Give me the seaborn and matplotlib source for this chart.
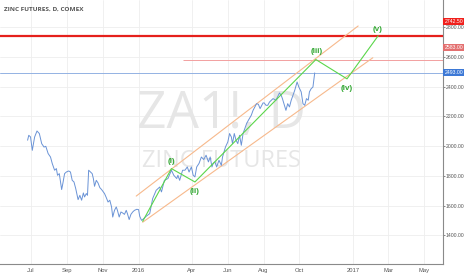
import matplotlib
matplotlib.use("Agg")
import matplotlib.pyplot as plt
import matplotlib.dates as mdates
import matplotlib.transforms as mtransforms
import seaborn as sns
import pandas as pd

# ---------------- data ----------------
price_dates = [
    "2015-06-26", "2015-06-28", "2015-07-01", "2015-07-04", "2015-07-08", "2015-07-12",
    "2015-07-16", "2015-07-20", "2015-07-24", "2015-07-27", "2015-07-31", "2015-08-04",
    "2015-08-07", "2015-08-11", "2015-08-14", "2015-08-16", "2015-08-19", "2015-08-23",
    "2015-08-25", "2015-08-28", "2015-08-31", "2015-09-04", "2015-09-07", "2015-09-10",
    "2015-09-13", "2015-09-16", "2015-09-20", "2015-09-23", "2015-09-26", "2015-09-29",
    "2015-10-01", "2015-10-04", "2015-10-06", "2015-10-08", "2015-10-11", "2015-10-14",
    "2015-10-16", "2015-10-18", "2015-10-21", "2015-10-24", "2015-10-27", "2015-10-30",
    "2015-11-02", "2015-11-04", "2015-11-07", "2015-11-10", "2015-11-13", "2015-11-16",
    "2015-11-18", "2015-11-21", "2015-11-24", "2015-11-26", "2015-11-29", "2015-12-02",
    "2015-12-05", "2015-12-08", "2015-12-11", "2015-12-13", "2015-12-16", "2015-12-19",
    "2015-12-22", "2015-12-25", "2015-12-29", "2016-01-01", "2016-01-03", "2016-01-06",
    "2016-01-08", "2016-01-14", "2016-01-20", "2016-01-25", "2016-01-31", "2016-02-06",
    "2016-02-09", "2016-02-14", "2016-02-20", "2016-02-26", "2016-03-01", "2016-03-06",
    "2016-03-08", "2016-03-11", "2016-03-16", "2016-03-20", "2016-03-24", "2016-03-27",
    "2016-03-31", "2016-04-03", "2016-04-06", "2016-04-09", "2016-04-13", "2016-04-17",
    "2016-04-21", "2016-04-25", "2016-04-29", "2016-05-02", "2016-05-05", "2016-05-07",
    "2016-05-10", "2016-05-13", "2016-05-17", "2016-05-21", "2016-05-23", "2016-05-28",
    "2016-06-01", "2016-06-04", "2016-06-07", "2016-06-09", "2016-06-12", "2016-06-15",
    "2016-06-18", "2016-06-21", "2016-06-24", "2016-06-27", "2016-06-30", "2016-07-03",
    "2016-07-06", "2016-07-11", "2016-07-14", "2016-07-17", "2016-07-20", "2016-07-23",
    "2016-07-26", "2016-07-29", "2016-07-31", "2016-08-02", "2016-08-05", "2016-08-08",
    "2016-08-11", "2016-08-17", "2016-08-22", "2016-08-28", "2016-08-31", "2016-09-02",
    "2016-09-08", "2016-09-11", "2016-09-14", "2016-09-17", "2016-09-23", "2016-09-27",
    "2016-09-30", "2016-10-04", "2016-10-07", "2016-10-10", "2016-10-13", "2016-10-16",
    "2016-10-18", "2016-10-21", "2016-10-24", "2016-10-27",
]
price_values = [
    2040, 2073, 2062, 1972, 2062, 2102,
    2085, 2017, 1994, 1999, 1950, 1927,
    1883, 1838, 1849, 1804, 1815, 1708,
    1748, 1815, 1826, 1833, 1826, 1770,
    1759, 1714, 1640, 1669, 1636, 1685,
    1658, 1681, 1669, 1838, 1826, 1815,
    1782, 1730, 1770, 1752, 1721, 1708,
    1692, 1681, 1654, 1624, 1636, 1591,
    1523, 1568, 1591, 1568, 1523, 1557,
    1550, 1541, 1568, 1546, 1506, 1541,
    1557, 1568, 1575, 1573, 1528, 1501,
    1506, 1528, 1546, 1647, 1703, 1725,
    1692, 1770, 1782, 1838, 1804, 1782,
    1804, 1770, 1838, 1838, 1860, 1826,
    1860, 1804, 1793, 1860, 1884, 1927,
    1910, 1939, 1894, 1927, 1860, 1883,
    1894, 1860, 1905, 1871, 1927, 1994,
    2028, 2085, 2062, 2017, 2085, 2040,
    2017, 2073, 2006, 2085, 2118, 2152,
    2174, 2208, 2241, 2264, 2286, 2282,
    2253, 2275, 2291, 2291, 2275, 2275,
    2297, 2320, 2309, 2358, 2342, 2320,
    2241, 2286, 2264, 2309, 2376, 2432,
    2398, 2365, 2286, 2275, 2320, 2309,
    2365, 2387, 2398, 2493,
]

wave_dates = ["2016-01-08", "2016-02-26", "2016-04-06", "2016-10-29", "2016-12-21", "2017-02-12"]
wave_values = [1494, 1849, 1759, 2583, 2453, 2742.5]

wave_labels = ["(i)", "(ii)", "(iii)", "(iv)", "(v)"]
wave_label_dates = ["2016-02-26", "2016-04-06", "2016-10-30", "2016-12-20", "2017-02-11"]
wave_label_values = [1900, 1698, 2634, 2387, 2785]

upper_channel_dates = ["2015-12-28", "2017-01-09"]
upper_channel_values = [1664, 2809]
lower_channel_dates = ["2016-01-08", "2017-02-03"]
lower_channel_values = [1488, 2595]

resistance_level = 2742.5
target_level = 2583.0
target_start = "2016-03-16"
last_price = 2493.0

y_ticks = [1400, 1600, 1800, 2000, 2200, 2400, 2600, 2800]
x_tick_dates = ["2015-07-01", "2015-09-01", "2015-11-01", "2016-01-01", "2016-04-01",
                "2016-06-01", "2016-08-01", "2016-10-01", "2017-01-01", "2017-03-01",
                "2017-05-01"]
x_tick_labels = ["Jul", "Sep", "Nov", "2016", "Apr", "Jun", "Aug", "Oct", "2017", "Mar", "May"]

title_text = "ZINC FUTURES, D, COMEX"
watermark_main = "ZA1!, D"
watermark_sub = "ZINC FUTURES"

# ---------------- style ----------------
sns.set_theme(style="white")
plt.rcParams["font.family"] = ["Liberation Sans", "DejaVu Sans"]

fig = plt.figure(figsize=(4.66, 2.75), dpi=100)
ax = fig.add_axes([0.0, 10.7 / 275, 442.7 / 466, 264.3 / 275])

price_df = pd.DataFrame({"date": pd.to_datetime(price_dates), "value": price_values})
wave_df = pd.DataFrame({"date": pd.to_datetime(wave_dates), "value": wave_values})
up_df = pd.DataFrame({"date": pd.to_datetime(upper_channel_dates), "value": upper_channel_values})
lo_df = pd.DataFrame({"date": pd.to_datetime(lower_channel_dates), "value": lower_channel_values})

xmin = pd.Timestamp("2015-05-10")
xmax = pd.Timestamp("2017-06-02")

# grid
for d in x_tick_dates:
    ax.axvline(pd.Timestamp(d), color="#eeeeee", lw=0.6, zorder=0)
for v in y_ticks:
    ax.axhline(v, color="#eeeeee", lw=0.6, zorder=0)

# watermark
ax.text(0.5, 0.568, watermark_main, transform=ax.transAxes, ha="center", va="center",
        fontsize=37, color="#e6e6e6", family=["Open Sans", "DejaVu Sans"], zorder=0.5)
ax.text(0.5, 0.392, watermark_sub, transform=ax.transAxes, ha="center", va="center",
        fontsize=17, color="#e6e6e6", family=["Open Sans", "DejaVu Sans"], zorder=0.5)

# horizontal levels
ax.axhline(resistance_level, color="#e5201c", lw=1.6, zorder=2)
ax.axhline(last_price, color="#93b2e3", lw=0.7, zorder=2)
ax.hlines(target_level, pd.Timestamp(target_start), xmax, color="#f2a0a0", lw=0.7, zorder=2)

# channels
sns.lineplot(data=up_df, x="date", y="value", ax=ax, color="#f7b98c", lw=0.8, zorder=3)
sns.lineplot(data=lo_df, x="date", y="value", ax=ax, color="#f7b98c", lw=0.8, zorder=3)

# price
sns.lineplot(data=price_df, x="date", y="value", ax=ax, color="#6a93d6", lw=0.7, zorder=4)

# wave
sns.lineplot(data=wave_df, x="date", y="value", ax=ax, color="#5ad64a", lw=0.8, zorder=5)
for lab, d, v in zip(wave_labels, wave_label_dates, wave_label_values):
    ax.text(pd.Timestamp(d), v, lab, ha="center", va="center", fontsize=5.8,
            fontweight="bold", color="#33a833", zorder=6)

# axes
ax.set_xlim(xmin, xmax)
ax.set_ylim(1204.8, 2983.8)
ax.set_xlabel("")
ax.set_ylabel("")
ax.set_xticks([mdates.date2num(pd.Timestamp(d)) for d in x_tick_dates])
ax.set_xticklabels(x_tick_labels)
ax.yaxis.tick_right()
ax.set_yticks(y_ticks)
ax.set_yticklabels([f"{v:.2f}" for v in y_ticks])
ax.tick_params(axis="x", labelsize=4.2, colors="#555555", length=1.5, width=0.5, pad=1.5)
ax.tick_params(axis="y", labelsize=3.7, colors="#555555", length=1.5, width=0.5, pad=0.8)
for s in ["top", "left"]:
    ax.spines[s].set_visible(False)
for s in ["right", "bottom"]:
    ax.spines[s].set_color("#8a8a8a")
    ax.spines[s].set_linewidth(0.8)

# price labels on right scale
blend = mtransforms.blended_transform_factory(ax.transAxes, ax.transData)
for txt, v, fc in [("2742.50", 2840, "#f0201c"), ("2583.00", 2665, "#e37070"),
                   ("2493.00", last_price, "#3d79d6")]:
    ax.text(1.004, v, txt, transform=blend, ha="left", va="center", fontsize=3.7,
            color="white", clip_on=False, zorder=10,
            bbox=dict(boxstyle="square,pad=0.2", fc=fc, ec="none"))

# title
fig.text(4 / 466, 1 - 9 / 275, title_text, ha="left", va="center", fontsize=4.6,
         fontweight="bold", color="#555555", family=["Open Sans", "DejaVu Sans"])

fig.savefig("out.png", dpi=100)
